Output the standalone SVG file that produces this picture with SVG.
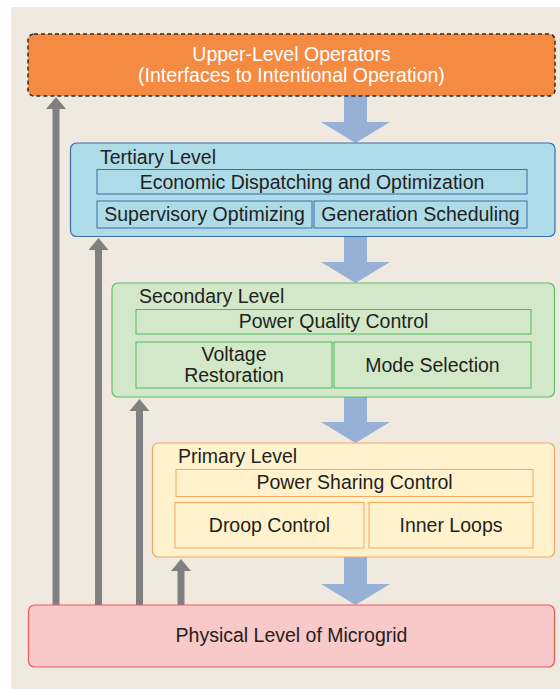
<svg xmlns="http://www.w3.org/2000/svg" width="560" height="689" viewBox="0 0 560 689">
  <style>
    text { font-family: "Liberation Sans", Arial, sans-serif; font-size: 19.5px; fill: #231f20; }
    .c { text-anchor: middle; }
    .white { fill: #ffffff; }
    .flow { fill: #97b1d6; }
    .feedback { fill: #808080; }
    .tert { fill: #aedbe8; stroke: #3a6ea5; stroke-width: 1.2; }
    .tsub { fill: none; stroke: #3a6ea5; stroke-width: 1; }
    .sec { fill: #d2e8c9; stroke: #5cbf6a; stroke-width: 1.2; }
    .ssub { fill: none; stroke: #4cbb5e; stroke-width: 1; }
    .prim { fill: #fff2cc; stroke: #f5a860; stroke-width: 1.2; }
    .psub { fill: none; stroke: #f5a860; stroke-width: 1; }
  </style>

  <!-- backdrop panel -->
  <rect x="11" y="7" width="549" height="682" fill="#f0e9e0"/>

  <!-- connectors: downward command flow and upward measurement feedback -->
  <g id="connectors">
    <polygon class="flow" points="344,96 367,96 367,122 390,122 355.5,143 321,122 344,122"/>
    <polygon class="flow" points="344,237 367,237 367,262 390,262 355.5,283 321,262 344,262"/>
    <polygon class="flow" points="344,397 367,397 367,422 390,422 355.5,443 321,422 344,422"/>
    <polygon class="flow" points="344,557 367,557 367,584 390,584 355.5,605 321,584 344,584"/>

    <polygon class="feedback" points="52.5,605 59.5,605 59.5,109 66,109 56,97 46,109 52.5,109"/>
    <polygon class="feedback" points="95,605 102,605 102,250 108.5,250 98.5,238 88.5,250 95,250"/>
    <polygon class="feedback" points="136,605 143,605 143,411 149.5,411 139.5,399 129.5,411 136,411"/>
    <polygon class="feedback" points="177.5,605 184.5,605 184.5,571 191,571 181,559 171,571 177.5,571"/>
  </g>

  <g id="upper-level">
    <rect x="28" y="34" width="527" height="62" rx="6" fill="#f58a42" stroke="#2b2b2b" stroke-width="1.5" stroke-dasharray="4,3"/>
    <text class="c white" x="291.5" y="61">Upper-Level Operators</text>
    <text class="c white" x="291.5" y="82">(Interfaces to Intentional Operation)</text>
  </g>

  <g id="tertiary-level">
    <rect class="tert" x="70.5" y="143" width="484.5" height="93.5" rx="6"/>
    <text x="100" y="163.5">Tertiary Level</text>
    <rect class="tsub" x="97" y="169.5" width="430" height="24.5"/>
    <text class="c" x="312" y="188.5">Economic Dispatching and Optimization</text>
    <rect class="tsub" x="97" y="201" width="215" height="27"/>
    <text class="c" x="204.5" y="221">Supervisory Optimizing</text>
    <rect class="tsub" x="314" y="201" width="213" height="27"/>
    <text class="c" x="420.5" y="221">Generation Scheduling</text>
  </g>

  <g id="secondary-level">
    <rect class="sec" x="112" y="283" width="442.5" height="114" rx="6"/>
    <text x="139" y="303">Secondary Level</text>
    <rect class="ssub" x="136" y="309.5" width="395" height="24.5"/>
    <text class="c" x="333.5" y="328">Power Quality Control</text>
    <rect class="ssub" x="136" y="342" width="196" height="46"/>
    <text class="c" x="234" y="361">Voltage</text>
    <text class="c" x="234" y="382">Restoration</text>
    <rect class="ssub" x="334" y="342" width="197" height="46"/>
    <text class="c" x="432.5" y="372">Mode Selection</text>
  </g>

  <g id="primary-level">
    <rect class="prim" x="152.5" y="443" width="402" height="114" rx="6"/>
    <text x="178" y="463">Primary Level</text>
    <rect class="psub" x="176" y="469.5" width="357" height="27"/>
    <text class="c" x="354.5" y="489">Power Sharing Control</text>
    <rect class="psub" x="175" y="502.5" width="189" height="45.5"/>
    <text class="c" x="269.5" y="532">Droop Control</text>
    <rect class="psub" x="369" y="502.5" width="164" height="45.5"/>
    <text class="c" x="451" y="532">Inner Loops</text>
  </g>

  <g id="physical-level">
    <rect x="28.5" y="605" width="526" height="62" rx="6" fill="#f9c8c8" stroke="#e85a5a" stroke-width="1.2"/>
    <text class="c" x="291.5" y="642">Physical Level of Microgrid</text>
  </g>
</svg>
